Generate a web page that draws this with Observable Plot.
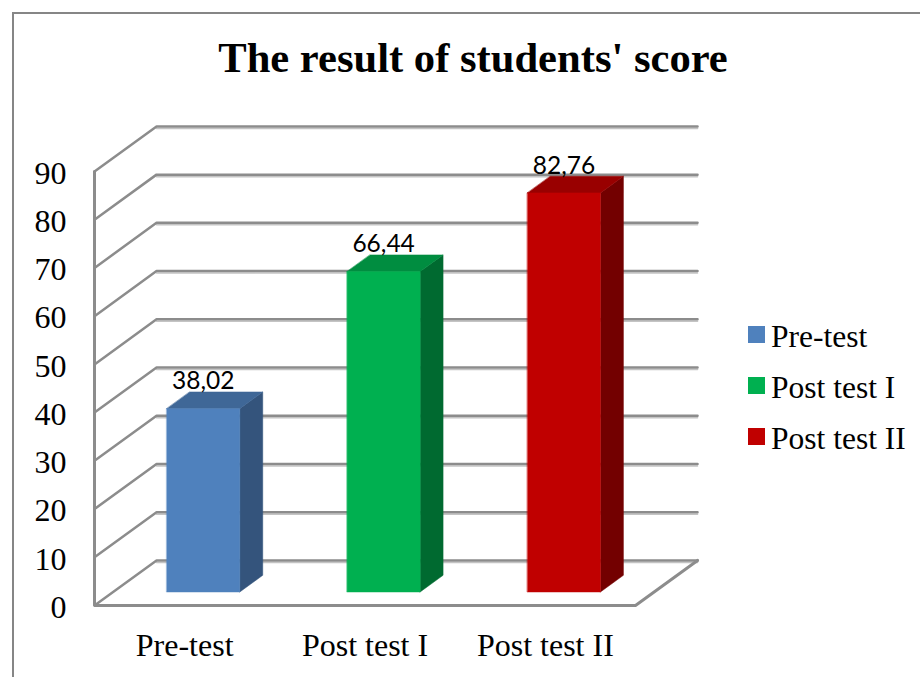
<!DOCTYPE html>
<html><head><meta charset="utf-8">
<script src="https://cdn.jsdelivr.net/npm/d3@7"></script>
<script src="https://cdn.jsdelivr.net/npm/@observablehq/plot@0.6"></script>
<style>
html,body{margin:0;padding:0;background:#fff;overflow:hidden}
#wrap{position:relative;width:920px;height:677px;font-family:"Liberation Serif",serif;color:#000}
#frame{position:absolute;left:12px;top:12px;right:0;bottom:0;border-top:2px solid #868686;border-left:2px solid #868686}
#title{position:absolute;left:0;width:946px;top:34px;text-align:center;font-weight:bold;font-size:42.6px;line-height:48px}
#legend{position:absolute;left:748px;top:309px}
.row{display:flex;align-items:center;height:51px;font-size:31.5px;white-space:nowrap}
.sw{width:17px;height:17px;margin-right:6px}
.row span:last-child{position:relative;top:2px}
svg{position:absolute;left:0;top:0}
</style></head><body>
<div id="wrap"><div id="frame"></div><div id="chart"></div><div id="title">The result of students' score</div><div id="legend"></div></div>
<script>
const categories = ["Pre-test", "Post test I", "Post test II"];
const values = [38.02, 66.44, 82.76];
const labels = ["38,02", "66,44", "82,76"];
const yTicks = [0, 10, 20, 30, 40, 50, 60, 70, 80, 90];
const frontColors = ["#4f81bd", "#00b050", "#c00000"];
const topColors = ["#3f6797", "#008d40", "#990000"];
const sideColors = ["#34547c", "#006a30", "#730000"];

// oblique projection of the 3-D box, in scale units
const dX = 0.344, dY = 9.35;
const barW = 0.405, barD0 = 0.3, barD1 = 0.67;
const P = (cx, v, d) => ({x: cx + d * dX, y: v + d * dY});

const wall = yTicks.flatMap(t => [P(-0.5, t, 0), P(-0.5, t, 1), P(2.5, t, 1)].map(p => ({...p, z: t})));
const backWall = yTicks.flatMap(t => [P(-0.5, t, 1), P(2.5, t, 1)].map(p => ({...p, z: t})));
const floor = [P(2.5, 0, 1), P(2.5, 0, 0), P(-0.5, 0, 0), P(-0.5, 90, 0)];

const fronts = [], tops = [], sides = [];
values.forEach((v, i) => {
  const a = i - barW / 2, b = i + barW / 2;
  const add = (list, pts, c) => pts.forEach(p => list.push({...p, z: i, c}));
  add(fronts, [P(a,0,barD0), P(b,0,barD0), P(b,v,barD0), P(a,v,barD0)], frontColors[i]);
  add(tops, [P(a,v,barD0), P(b,v,barD0), P(b,v,barD1), P(a,v,barD1)], topColors[i]);
  add(sides, [P(b,0,barD0), P(b,0,barD1), P(b,v,barD1), P(b,v,barD0)], sideColors[i]);
});
const labelPos = values.map((v, i) => ({...P(i, v, barD0), t: labels[i]}));

const face = list => Plot.line(list, {x:"x", y:"y", z:"z", fill:"c", stroke:"c", strokeWidth:0.5, curve:"linear-closed"});

const chart = Plot.plot({
  width: 920, height: 677,
  marginLeft: 94, marginRight: 285, marginTop: 171, marginBottom: 72,
  style: {background:"transparent", overflow:"visible"},
  x: {domain:[-0.5, 2.5], range:[94, 635]},
  y: {domain:[0, 90], range:[605, 171]},
  color: {type:"identity"},
  marks: [
    Plot.axisY({ticks:yTicks, tickSize:0, tickPadding:28, fontSize:32, fontFamily:"Liberation Serif", label:null, tickFormat:d=>d, textStroke:"none", dy:2, color:"#000"}),
    Plot.axisX({ticks:[0,1,2], tickSize:0, tickPadding:28, fontSize:32, fontFamily:"Liberation Serif", label:null, tickFormat:i=>categories[i], color:"#000"}),
    Plot.line(backWall, {x:"x", y:"y", z:"z", stroke:"#c4c4c4", strokeWidth:1.5, dy:2}),
    Plot.line(wall, {x:"x", y:"y", z:"z", stroke:"#8c8c8c", strokeWidth:2.5, curve:"linear"}),
    Plot.line(floor, {x:"x", y:"y", stroke:"#8c8c8c", strokeWidth:3, strokeLinejoin:"miter"}),
    face(sides), face(tops), face(fronts),
    Plot.text(labelPos, {x:"x", y:"y", text:"t", fontSize:24.5, fontFamily:"Lato", fill:"#000", dy:-27, lineAnchor:"middle"})
  ]
});
document.getElementById("chart").appendChild(chart);

const legend = document.getElementById("legend");
categories.forEach((c, i) => {
  const r = document.createElement("div"); r.className = "row";
  const s = document.createElement("span"); s.className = "sw"; s.style.background = frontColors[i];
  const t = document.createElement("span"); t.textContent = c;
  r.append(s, t); legend.appendChild(r);
});
</script></body></html>
